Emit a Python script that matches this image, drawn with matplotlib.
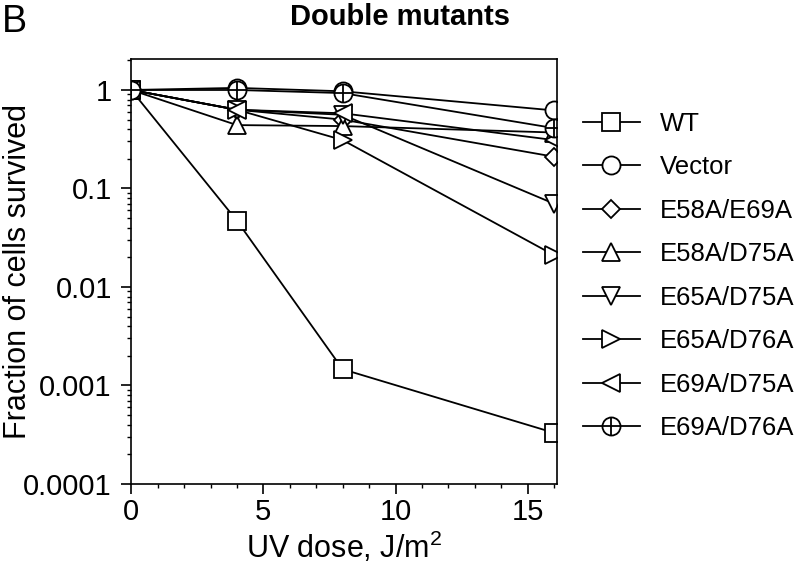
"""
UV survival curves for double mutants (panel B).
Log-scale fraction of surviving cells vs UV dose.
"""

import matplotlib
matplotlib.use("Agg")
import matplotlib.pyplot as plt
from matplotlib.legend_handler import HandlerTuple
from matplotlib.ticker import FixedLocator, MultipleLocator, LogLocator, NullFormatter

plt.rcParams["font.family"] = ["Liberation Sans", "DejaVu Sans"]
plt.rcParams["mathtext.fontset"] = "custom"
plt.rcParams["mathtext.rm"] = "Liberation Sans"

# UV dose (J/m^2)
doses = [0, 4, 8, 16]

# fraction of cells survived
wt        = [1.0, 0.047, 0.00146, 0.00033]
vector    = [1.0, 1.05, 0.97, 0.62]
e58a_e69a = [1.0, 0.63, 0.50, 0.21]
e58a_d75a = [1.0, 0.44, 0.43, 0.37]
e65a_d75a = [1.0, 0.63, 0.56, 0.070]
e65a_d76a = [1.0, 0.63, 0.31, 0.021]
e69a_d75a = [1.0, 0.63, 0.58, 0.31]
e69a_d76a = [1.0, 1.00, 0.93, 0.41]

labels = ["WT", "Vector", "E58A/E69A", "E58A/D75A",
          "E65A/D75A", "E65A/D76A", "E69A/D75A", "E69A/D76A"]
y_ticks = [1e-4, 1e-3, 1e-2, 1e-1, 1]
y_ticklabels = ["0.0001", "0.001", "0.01", "0.1", "1"]
x_ticks = [0, 5, 10, 15]

LW = 1.3
style = dict(color="black", lw=LW, mfc="white", mec="black", mew=1.3)

fig = plt.figure(figsize=(8, 5.66), dpi=100)
ax = fig.add_axes([0.164, 0.145, 0.532, 0.751])

series = [
    (wt,        "s", 13.0),
    (vector,    "o", 13.0),
    (e58a_e69a, "D", 9.2),
    (e58a_d75a, "^", 13.0),
    (e65a_d75a, "v", 13.0),
    (e65a_d76a, ">", 13.0),
    (e69a_d75a, "<", 13.0),
]

handles = []
for vals, mk, ms in series:
    h, = ax.plot(doses, vals, marker=mk, ms=ms, **style)
    handles.append(h)

# circle with a cross inside
c, = ax.plot(doses, e69a_d76a, marker="o", ms=13.0, **style)
p, = ax.plot(doses, e69a_d76a, marker="+", ms=13.0, ls="none",
             mec="black", mew=1.3)
handles.append((c, p))

ax.set_yscale("log")
ax.set_ylim(1e-4, 2.07)
ax.set_xlim(0, 16.1)

ax.yaxis.set_major_locator(FixedLocator(y_ticks))
ax.set_yticklabels(y_ticklabels)
ax.yaxis.set_minor_locator(LogLocator(base=10, subs=range(2, 10)))
ax.yaxis.set_minor_formatter(NullFormatter())
ax.set_xticks(x_ticks)
ax.xaxis.set_minor_locator(MultipleLocator(1))

ax.tick_params(which="major", direction="out", length=7, width=1.2,
               labelsize=21, pad=3)
ax.tick_params(axis="y", which="major", pad=7)
ax.tick_params(which="minor", direction="out", length=3, width=1.0)
for s in ax.spines.values():
    s.set_linewidth(1.2)

ax.set_xlabel(r"UV dose, J/m$^{\mathregular{2}}$", fontsize=22, labelpad=3)
ax.set_ylabel("Fraction of cells survived", fontsize=22)
ax.yaxis.set_label_coords(-0.23, 0.5)

fig.text(0.5, 0.956, "Double mutants", fontsize=21, fontweight="bold",
         ha="center", va="baseline")
fig.text(0.002, 0.993, "B", fontsize=27, va="top", ha="left")

fig.legend(handles, labels, loc="upper left", bbox_to_anchor=(0.716, 0.821),
           frameon=False, fontsize=18.5, handlelength=2.2, handletextpad=0.78,
           labelspacing=0.76, borderaxespad=0,
           handler_map={tuple: HandlerTuple(ndivide=1)})

fig.savefig("out.png", dpi=100)
